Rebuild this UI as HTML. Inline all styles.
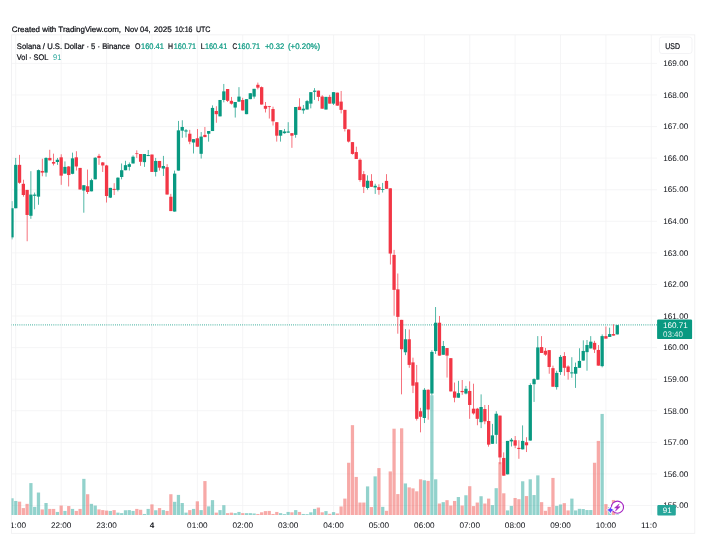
<!DOCTYPE html>
<html><head><meta charset="utf-8"><title>SOLUSD</title>
<style>html,body{margin:0;padding:0;background:#fff;}body{width:711px;height:540px;overflow:hidden;}svg{display:block;}text{font-family:"Liberation Sans",sans-serif;text-rendering:geometricPrecision;stroke-width:0.22px;}.k{stroke:#0c0e14;}.ax{stroke:none;}svg{will-change:transform;}</style>
</head><body>
<svg width="711" height="540" viewBox="0 0 711 540">
<rect x="0" y="0" width="711" height="540" fill="#ffffff"/>
<defs><clipPath id="pane"><rect x="11.5" y="34.85" width="645.5" height="480.15"/></clipPath><clipPath id="taxis"><rect x="11.5" y="515.0" width="645.5" height="18.299999999999955"/></clipPath></defs>
<g stroke="#f3f3f4" stroke-width="0.8" shape-rendering="auto">
<line x1="15.77" y1="34.85" x2="15.77" y2="515.0"/>
<line x1="61.17" y1="34.85" x2="61.17" y2="515.0"/>
<line x1="106.56" y1="34.85" x2="106.56" y2="515.0"/>
<line x1="151.96" y1="34.85" x2="151.96" y2="515.0"/>
<line x1="197.35" y1="34.85" x2="197.35" y2="515.0"/>
<line x1="242.75" y1="34.85" x2="242.75" y2="515.0"/>
<line x1="288.15" y1="34.85" x2="288.15" y2="515.0"/>
<line x1="333.54" y1="34.85" x2="333.54" y2="515.0"/>
<line x1="378.94" y1="34.85" x2="378.94" y2="515.0"/>
<line x1="424.33" y1="34.85" x2="424.33" y2="515.0"/>
<line x1="469.73" y1="34.85" x2="469.73" y2="515.0"/>
<line x1="515.13" y1="34.85" x2="515.13" y2="515.0"/>
<line x1="560.52" y1="34.85" x2="560.52" y2="515.0"/>
<line x1="605.92" y1="34.85" x2="605.92" y2="515.0"/>
<line x1="651.31" y1="34.85" x2="651.31" y2="515.0"/>
<line x1="11.5" y1="63.40" x2="657.0" y2="63.40"/>
<line x1="11.5" y1="94.98" x2="657.0" y2="94.98"/>
<line x1="11.5" y1="126.56" x2="657.0" y2="126.56"/>
<line x1="11.5" y1="158.14" x2="657.0" y2="158.14"/>
<line x1="11.5" y1="189.72" x2="657.0" y2="189.72"/>
<line x1="11.5" y1="221.30" x2="657.0" y2="221.30"/>
<line x1="11.5" y1="252.88" x2="657.0" y2="252.88"/>
<line x1="11.5" y1="284.46" x2="657.0" y2="284.46"/>
<line x1="11.5" y1="316.04" x2="657.0" y2="316.04"/>
<line x1="11.5" y1="347.62" x2="657.0" y2="347.62"/>
<line x1="11.5" y1="379.20" x2="657.0" y2="379.20"/>
<line x1="11.5" y1="410.78" x2="657.0" y2="410.78"/>
<line x1="11.5" y1="442.36" x2="657.0" y2="442.36"/>
<line x1="11.5" y1="473.94" x2="657.0" y2="473.94"/>
<line x1="11.5" y1="505.52" x2="657.0" y2="505.52"/>
</g>
<rect x="11.5" y="34.85" width="683.3" height="498.44999999999993" fill="none" stroke="#eeeef0" stroke-width="0.8"/>
<g clip-path="url(#pane)">
<rect x="10.36" y="498.28" width="3.25" height="16.72" fill="#26a69a" fill-opacity="0.5"/>
<rect x="14.14" y="500.98" width="3.25" height="14.02" fill="#26a69a" fill-opacity="0.5"/>
<rect x="17.93" y="501.66" width="3.25" height="13.34" fill="#ef5350" fill-opacity="0.5"/>
<rect x="21.71" y="508.07" width="3.25" height="6.93" fill="#ef5350" fill-opacity="0.5"/>
<rect x="25.49" y="503.85" width="3.25" height="11.15" fill="#ef5350" fill-opacity="0.5"/>
<rect x="29.28" y="483.09" width="3.25" height="31.91" fill="#26a69a" fill-opacity="0.5"/>
<rect x="33.06" y="506.89" width="3.25" height="8.11" fill="#26a69a" fill-opacity="0.5"/>
<rect x="36.84" y="492.54" width="3.25" height="22.46" fill="#26a69a" fill-opacity="0.5"/>
<rect x="40.63" y="509.42" width="3.25" height="5.58" fill="#ef5350" fill-opacity="0.5"/>
<rect x="44.41" y="503.01" width="3.25" height="11.99" fill="#26a69a" fill-opacity="0.5"/>
<rect x="48.19" y="508.92" width="3.25" height="6.08" fill="#ef5350" fill-opacity="0.5"/>
<rect x="51.97" y="508.92" width="3.25" height="6.08" fill="#ef5350" fill-opacity="0.5"/>
<rect x="55.76" y="511.95" width="3.25" height="3.05" fill="#26a69a" fill-opacity="0.5"/>
<rect x="59.54" y="505.54" width="3.25" height="9.46" fill="#ef5350" fill-opacity="0.5"/>
<rect x="63.32" y="510.94" width="3.25" height="4.06" fill="#26a69a" fill-opacity="0.5"/>
<rect x="67.11" y="506.05" width="3.25" height="8.95" fill="#ef5350" fill-opacity="0.5"/>
<rect x="70.89" y="508.92" width="3.25" height="6.08" fill="#26a69a" fill-opacity="0.5"/>
<rect x="74.67" y="510.94" width="3.25" height="4.06" fill="#ef5350" fill-opacity="0.5"/>
<rect x="78.46" y="508.92" width="3.25" height="6.08" fill="#ef5350" fill-opacity="0.5"/>
<rect x="82.24" y="478.87" width="3.25" height="36.13" fill="#26a69a" fill-opacity="0.5"/>
<rect x="86.02" y="494.23" width="3.25" height="20.77" fill="#ef5350" fill-opacity="0.5"/>
<rect x="89.80" y="503.85" width="3.25" height="11.15" fill="#26a69a" fill-opacity="0.5"/>
<rect x="93.59" y="505.54" width="3.25" height="9.46" fill="#26a69a" fill-opacity="0.5"/>
<rect x="97.37" y="509.42" width="3.25" height="5.58" fill="#ef5350" fill-opacity="0.5"/>
<rect x="101.15" y="510.10" width="3.25" height="4.90" fill="#ef5350" fill-opacity="0.5"/>
<rect x="104.94" y="510.60" width="3.25" height="4.40" fill="#ef5350" fill-opacity="0.5"/>
<rect x="108.72" y="510.94" width="3.25" height="4.06" fill="#26a69a" fill-opacity="0.5"/>
<rect x="112.50" y="510.10" width="3.25" height="4.90" fill="#ef5350" fill-opacity="0.5"/>
<rect x="116.29" y="512.63" width="3.25" height="2.37" fill="#26a69a" fill-opacity="0.5"/>
<rect x="120.07" y="513.14" width="3.25" height="1.86" fill="#26a69a" fill-opacity="0.5"/>
<rect x="123.85" y="510.27" width="3.25" height="4.73" fill="#26a69a" fill-opacity="0.5"/>
<rect x="127.63" y="510.10" width="3.25" height="4.90" fill="#26a69a" fill-opacity="0.5"/>
<rect x="131.42" y="510.94" width="3.25" height="4.06" fill="#26a69a" fill-opacity="0.5"/>
<rect x="135.20" y="508.92" width="3.25" height="6.08" fill="#ef5350" fill-opacity="0.5"/>
<rect x="138.98" y="509.76" width="3.25" height="5.24" fill="#ef5350" fill-opacity="0.5"/>
<rect x="142.77" y="513.98" width="3.25" height="1.02" fill="#26a69a" fill-opacity="0.5"/>
<rect x="146.55" y="508.92" width="3.25" height="6.08" fill="#26a69a" fill-opacity="0.5"/>
<rect x="150.33" y="504.36" width="3.25" height="10.64" fill="#ef5350" fill-opacity="0.5"/>
<rect x="154.12" y="510.27" width="3.25" height="4.73" fill="#26a69a" fill-opacity="0.5"/>
<rect x="157.90" y="508.07" width="3.25" height="6.93" fill="#ef5350" fill-opacity="0.5"/>
<rect x="161.68" y="510.10" width="3.25" height="4.90" fill="#26a69a" fill-opacity="0.5"/>
<rect x="165.47" y="510.94" width="3.25" height="4.06" fill="#ef5350" fill-opacity="0.5"/>
<rect x="169.25" y="494.23" width="3.25" height="20.77" fill="#ef5350" fill-opacity="0.5"/>
<rect x="173.03" y="501.83" width="3.25" height="13.17" fill="#26a69a" fill-opacity="0.5"/>
<rect x="176.81" y="494.91" width="3.25" height="20.09" fill="#26a69a" fill-opacity="0.5"/>
<rect x="180.60" y="503.01" width="3.25" height="11.99" fill="#26a69a" fill-opacity="0.5"/>
<rect x="184.38" y="512.63" width="3.25" height="2.37" fill="#26a69a" fill-opacity="0.5"/>
<rect x="188.16" y="510.10" width="3.25" height="4.90" fill="#ef5350" fill-opacity="0.5"/>
<rect x="191.95" y="508.92" width="3.25" height="6.08" fill="#26a69a" fill-opacity="0.5"/>
<rect x="195.73" y="501.32" width="3.25" height="13.68" fill="#ef5350" fill-opacity="0.5"/>
<rect x="199.51" y="510.10" width="3.25" height="4.90" fill="#26a69a" fill-opacity="0.5"/>
<rect x="203.30" y="481.07" width="3.25" height="33.93" fill="#ef5350" fill-opacity="0.5"/>
<rect x="207.08" y="506.38" width="3.25" height="8.62" fill="#26a69a" fill-opacity="0.5"/>
<rect x="210.86" y="500.14" width="3.25" height="14.86" fill="#26a69a" fill-opacity="0.5"/>
<rect x="214.64" y="512.63" width="3.25" height="2.37" fill="#ef5350" fill-opacity="0.5"/>
<rect x="218.43" y="510.10" width="3.25" height="4.90" fill="#26a69a" fill-opacity="0.5"/>
<rect x="222.21" y="505.20" width="3.25" height="9.80" fill="#26a69a" fill-opacity="0.5"/>
<rect x="225.99" y="513.14" width="3.25" height="1.86" fill="#ef5350" fill-opacity="0.5"/>
<rect x="229.78" y="512.63" width="3.25" height="2.37" fill="#ef5350" fill-opacity="0.5"/>
<rect x="233.56" y="513.14" width="3.25" height="1.86" fill="#26a69a" fill-opacity="0.5"/>
<rect x="237.34" y="511.95" width="3.25" height="3.05" fill="#26a69a" fill-opacity="0.5"/>
<rect x="241.12" y="513.14" width="3.25" height="1.86" fill="#ef5350" fill-opacity="0.5"/>
<rect x="244.91" y="513.14" width="3.25" height="1.86" fill="#26a69a" fill-opacity="0.5"/>
<rect x="248.69" y="513.14" width="3.25" height="1.86" fill="#26a69a" fill-opacity="0.5"/>
<rect x="252.47" y="513.47" width="3.25" height="1.53" fill="#26a69a" fill-opacity="0.5"/>
<rect x="256.26" y="513.98" width="3.25" height="1.02" fill="#ef5350" fill-opacity="0.5"/>
<rect x="260.04" y="512.29" width="3.25" height="2.71" fill="#ef5350" fill-opacity="0.5"/>
<rect x="263.82" y="511.11" width="3.25" height="3.89" fill="#ef5350" fill-opacity="0.5"/>
<rect x="267.61" y="510.94" width="3.25" height="4.06" fill="#ef5350" fill-opacity="0.5"/>
<rect x="271.39" y="513.98" width="3.25" height="1.02" fill="#ef5350" fill-opacity="0.5"/>
<rect x="275.17" y="511.95" width="3.25" height="3.05" fill="#ef5350" fill-opacity="0.5"/>
<rect x="278.95" y="513.14" width="3.25" height="1.86" fill="#26a69a" fill-opacity="0.5"/>
<rect x="282.74" y="514.15" width="3.25" height="0.85" fill="#26a69a" fill-opacity="0.5"/>
<rect x="286.52" y="511.95" width="3.25" height="3.05" fill="#26a69a" fill-opacity="0.5"/>
<rect x="290.30" y="512.29" width="3.25" height="2.71" fill="#ef5350" fill-opacity="0.5"/>
<rect x="294.09" y="510.10" width="3.25" height="4.90" fill="#26a69a" fill-opacity="0.5"/>
<rect x="297.87" y="511.95" width="3.25" height="3.05" fill="#ef5350" fill-opacity="0.5"/>
<rect x="301.65" y="513.98" width="3.25" height="1.02" fill="#26a69a" fill-opacity="0.5"/>
<rect x="305.44" y="514.15" width="3.25" height="0.85" fill="#26a69a" fill-opacity="0.5"/>
<rect x="309.22" y="512.29" width="3.25" height="2.71" fill="#26a69a" fill-opacity="0.5"/>
<rect x="313.00" y="508.92" width="3.25" height="6.08" fill="#26a69a" fill-opacity="0.5"/>
<rect x="316.78" y="507.57" width="3.25" height="7.43" fill="#ef5350" fill-opacity="0.5"/>
<rect x="320.57" y="512.29" width="3.25" height="2.71" fill="#ef5350" fill-opacity="0.5"/>
<rect x="324.35" y="511.11" width="3.25" height="3.89" fill="#26a69a" fill-opacity="0.5"/>
<rect x="328.13" y="513.81" width="3.25" height="1.19" fill="#ef5350" fill-opacity="0.5"/>
<rect x="331.92" y="512.12" width="3.25" height="2.88" fill="#26a69a" fill-opacity="0.5"/>
<rect x="335.70" y="513.47" width="3.25" height="1.53" fill="#ef5350" fill-opacity="0.5"/>
<rect x="339.48" y="506.48" width="3.25" height="8.52" fill="#ef5350" fill-opacity="0.5"/>
<rect x="343.27" y="498.61" width="3.25" height="16.39" fill="#ef5350" fill-opacity="0.5"/>
<rect x="347.05" y="462.77" width="3.25" height="52.23" fill="#ef5350" fill-opacity="0.5"/>
<rect x="350.83" y="425.16" width="3.25" height="89.84" fill="#ef5350" fill-opacity="0.5"/>
<rect x="354.61" y="476.95" width="3.25" height="38.05" fill="#ef5350" fill-opacity="0.5"/>
<rect x="358.40" y="502.55" width="3.25" height="12.45" fill="#ef5350" fill-opacity="0.5"/>
<rect x="362.18" y="502.55" width="3.25" height="12.45" fill="#ef5350" fill-opacity="0.5"/>
<rect x="365.96" y="486.40" width="3.25" height="28.60" fill="#26a69a" fill-opacity="0.5"/>
<rect x="369.75" y="507.07" width="3.25" height="7.93" fill="#ef5350" fill-opacity="0.5"/>
<rect x="373.53" y="476.36" width="3.25" height="38.64" fill="#26a69a" fill-opacity="0.5"/>
<rect x="377.31" y="468.09" width="3.25" height="46.91" fill="#ef5350" fill-opacity="0.5"/>
<rect x="381.10" y="506.88" width="3.25" height="8.12" fill="#26a69a" fill-opacity="0.5"/>
<rect x="384.88" y="510.82" width="3.25" height="4.18" fill="#ef5350" fill-opacity="0.5"/>
<rect x="388.66" y="471.43" width="3.25" height="43.57" fill="#ef5350" fill-opacity="0.5"/>
<rect x="392.44" y="428.71" width="3.25" height="86.29" fill="#ef5350" fill-opacity="0.5"/>
<rect x="396.23" y="494.08" width="3.25" height="20.92" fill="#ef5350" fill-opacity="0.5"/>
<rect x="400.01" y="428.31" width="3.25" height="86.69" fill="#ef5350" fill-opacity="0.5"/>
<rect x="403.79" y="483.45" width="3.25" height="31.55" fill="#26a69a" fill-opacity="0.5"/>
<rect x="407.58" y="487.38" width="3.25" height="27.62" fill="#ef5350" fill-opacity="0.5"/>
<rect x="411.36" y="488.37" width="3.25" height="26.63" fill="#ef5350" fill-opacity="0.5"/>
<rect x="415.14" y="491.32" width="3.25" height="23.68" fill="#ef5350" fill-opacity="0.5"/>
<rect x="418.93" y="479.31" width="3.25" height="35.69" fill="#ef5350" fill-opacity="0.5"/>
<rect x="422.71" y="480.29" width="3.25" height="34.71" fill="#26a69a" fill-opacity="0.5"/>
<rect x="426.49" y="480.89" width="3.25" height="34.11" fill="#ef5350" fill-opacity="0.5"/>
<rect x="430.27" y="395.23" width="3.25" height="119.77" fill="#26a69a" fill-opacity="0.5"/>
<rect x="434.06" y="479.31" width="3.25" height="35.69" fill="#26a69a" fill-opacity="0.5"/>
<rect x="437.84" y="503.53" width="3.25" height="11.47" fill="#ef5350" fill-opacity="0.5"/>
<rect x="441.62" y="502.15" width="3.25" height="12.85" fill="#26a69a" fill-opacity="0.5"/>
<rect x="445.41" y="500.18" width="3.25" height="14.82" fill="#ef5350" fill-opacity="0.5"/>
<rect x="449.19" y="505.50" width="3.25" height="9.50" fill="#ef5350" fill-opacity="0.5"/>
<rect x="452.97" y="500.97" width="3.25" height="14.03" fill="#ef5350" fill-opacity="0.5"/>
<rect x="456.76" y="497.03" width="3.25" height="17.97" fill="#26a69a" fill-opacity="0.5"/>
<rect x="460.54" y="505.50" width="3.25" height="9.50" fill="#ef5350" fill-opacity="0.5"/>
<rect x="464.32" y="495.26" width="3.25" height="19.74" fill="#26a69a" fill-opacity="0.5"/>
<rect x="468.10" y="486.20" width="3.25" height="28.80" fill="#ef5350" fill-opacity="0.5"/>
<rect x="471.89" y="506.09" width="3.25" height="8.91" fill="#ef5350" fill-opacity="0.5"/>
<rect x="475.67" y="502.55" width="3.25" height="12.45" fill="#ef5350" fill-opacity="0.5"/>
<rect x="479.45" y="496.24" width="3.25" height="18.76" fill="#26a69a" fill-opacity="0.5"/>
<rect x="483.24" y="503.53" width="3.25" height="11.47" fill="#ef5350" fill-opacity="0.5"/>
<rect x="487.02" y="498.61" width="3.25" height="16.39" fill="#ef5350" fill-opacity="0.5"/>
<rect x="490.80" y="505.10" width="3.25" height="9.90" fill="#26a69a" fill-opacity="0.5"/>
<rect x="494.59" y="488.17" width="3.25" height="26.83" fill="#26a69a" fill-opacity="0.5"/>
<rect x="498.37" y="462.18" width="3.25" height="52.82" fill="#ef5350" fill-opacity="0.5"/>
<rect x="502.15" y="493.29" width="3.25" height="21.71" fill="#ef5350" fill-opacity="0.5"/>
<rect x="505.93" y="510.42" width="3.25" height="4.58" fill="#26a69a" fill-opacity="0.5"/>
<rect x="509.72" y="505.89" width="3.25" height="9.11" fill="#26a69a" fill-opacity="0.5"/>
<rect x="513.50" y="498.02" width="3.25" height="16.98" fill="#ef5350" fill-opacity="0.5"/>
<rect x="517.28" y="499.20" width="3.25" height="15.80" fill="#ef5350" fill-opacity="0.5"/>
<rect x="521.07" y="481.28" width="3.25" height="33.72" fill="#26a69a" fill-opacity="0.5"/>
<rect x="524.85" y="496.05" width="3.25" height="18.95" fill="#ef5350" fill-opacity="0.5"/>
<rect x="528.63" y="479.31" width="3.25" height="35.69" fill="#26a69a" fill-opacity="0.5"/>
<rect x="532.42" y="495.06" width="3.25" height="19.94" fill="#26a69a" fill-opacity="0.5"/>
<rect x="536.20" y="475.37" width="3.25" height="39.63" fill="#26a69a" fill-opacity="0.5"/>
<rect x="539.98" y="502.15" width="3.25" height="12.85" fill="#ef5350" fill-opacity="0.5"/>
<rect x="543.76" y="510.82" width="3.25" height="4.18" fill="#ef5350" fill-opacity="0.5"/>
<rect x="547.55" y="506.88" width="3.25" height="8.12" fill="#ef5350" fill-opacity="0.5"/>
<rect x="551.33" y="477.93" width="3.25" height="37.07" fill="#ef5350" fill-opacity="0.5"/>
<rect x="555.11" y="505.89" width="3.25" height="9.11" fill="#26a69a" fill-opacity="0.5"/>
<rect x="558.90" y="504.51" width="3.25" height="10.49" fill="#26a69a" fill-opacity="0.5"/>
<rect x="562.68" y="503.14" width="3.25" height="11.86" fill="#ef5350" fill-opacity="0.5"/>
<rect x="566.46" y="510.42" width="3.25" height="4.58" fill="#ef5350" fill-opacity="0.5"/>
<rect x="570.25" y="498.61" width="3.25" height="16.39" fill="#26a69a" fill-opacity="0.5"/>
<rect x="574.03" y="510.42" width="3.25" height="4.58" fill="#26a69a" fill-opacity="0.5"/>
<rect x="577.81" y="508.85" width="3.25" height="6.15" fill="#26a69a" fill-opacity="0.5"/>
<rect x="581.59" y="509.04" width="3.25" height="5.96" fill="#26a69a" fill-opacity="0.5"/>
<rect x="585.38" y="510.03" width="3.25" height="4.97" fill="#26a69a" fill-opacity="0.5"/>
<rect x="589.16" y="510.03" width="3.25" height="4.97" fill="#26a69a" fill-opacity="0.5"/>
<rect x="592.94" y="462.77" width="3.25" height="52.23" fill="#ef5350" fill-opacity="0.5"/>
<rect x="596.73" y="440.91" width="3.25" height="74.09" fill="#ef5350" fill-opacity="0.5"/>
<rect x="600.51" y="413.94" width="3.25" height="101.06" fill="#26a69a" fill-opacity="0.5"/>
<rect x="604.29" y="504.12" width="3.25" height="10.88" fill="#ef5350" fill-opacity="0.5"/>
<rect x="608.08" y="507.07" width="3.25" height="7.93" fill="#26a69a" fill-opacity="0.5"/>
<rect x="611.86" y="499.99" width="3.25" height="15.01" fill="#ef5350" fill-opacity="0.5"/>
<rect x="615.64" y="514.36" width="3.25" height="0.64" fill="#26a69a" fill-opacity="0.5"/>
</g>
<line x1="11.03" y1="324.95" x2="657.0" y2="324.95" stroke="#089981" stroke-opacity="0.85" stroke-width="1.3" stroke-dasharray="0.72 1.402" clip-path="url(#pane)"/>
<g clip-path="url(#pane)">
<rect x="11.64" y="201.11" width="0.7" height="38.30" fill="#089981"/>
<rect x="10.34" y="208.24" width="3.3" height="29.13" fill="#089981"/>
<rect x="15.42" y="157.93" width="0.7" height="50.32" fill="#089981"/>
<rect x="14.12" y="164.85" width="3.3" height="43.39" fill="#089981"/>
<rect x="19.20" y="154.87" width="0.7" height="28.93" fill="#f23645"/>
<rect x="17.90" y="164.85" width="3.3" height="17.93" fill="#f23645"/>
<rect x="22.99" y="179.72" width="0.7" height="16.91" fill="#f23645"/>
<rect x="21.69" y="183.80" width="3.3" height="11.20" fill="#f23645"/>
<rect x="26.77" y="189.91" width="0.7" height="51.33" fill="#f23645"/>
<rect x="25.47" y="189.91" width="3.3" height="25.06" fill="#f23645"/>
<rect x="30.55" y="171.17" width="0.7" height="47.67" fill="#089981"/>
<rect x="29.25" y="194.59" width="3.3" height="21.19" fill="#089981"/>
<rect x="34.34" y="192.56" width="0.7" height="16.70" fill="#089981"/>
<rect x="33.04" y="194.59" width="3.3" height="1.22" fill="#089981"/>
<rect x="38.12" y="169.54" width="0.7" height="35.24" fill="#089981"/>
<rect x="36.82" y="170.15" width="3.3" height="26.48" fill="#089981"/>
<rect x="41.90" y="158.74" width="0.7" height="17.52" fill="#f23645"/>
<rect x="40.60" y="170.96" width="3.3" height="1.63" fill="#f23645"/>
<rect x="45.68" y="157.32" width="0.7" height="19.35" fill="#089981"/>
<rect x="44.38" y="157.93" width="3.3" height="14.67" fill="#089981"/>
<rect x="49.47" y="149.78" width="0.7" height="10.59" fill="#f23645"/>
<rect x="48.17" y="157.93" width="3.3" height="2.44" fill="#f23645"/>
<rect x="53.25" y="153.65" width="0.7" height="11.82" fill="#f23645"/>
<rect x="51.95" y="162.00" width="3.3" height="1.63" fill="#f23645"/>
<rect x="57.03" y="157.93" width="0.7" height="6.93" fill="#089981"/>
<rect x="55.73" y="159.76" width="3.3" height="2.24" fill="#089981"/>
<rect x="60.82" y="154.26" width="0.7" height="30.56" fill="#f23645"/>
<rect x="59.52" y="157.32" width="3.3" height="18.33" fill="#f23645"/>
<rect x="64.60" y="161.39" width="0.7" height="12.22" fill="#089981"/>
<rect x="63.30" y="166.89" width="3.3" height="6.72" fill="#089981"/>
<rect x="68.38" y="166.07" width="0.7" height="20.37" fill="#f23645"/>
<rect x="67.08" y="166.48" width="3.3" height="8.56" fill="#f23645"/>
<rect x="72.17" y="152.63" width="0.7" height="21.59" fill="#089981"/>
<rect x="70.86" y="158.33" width="3.3" height="15.48" fill="#089981"/>
<rect x="75.95" y="151.20" width="0.7" height="19.35" fill="#f23645"/>
<rect x="74.65" y="157.32" width="3.3" height="9.17" fill="#f23645"/>
<rect x="79.73" y="167.91" width="0.7" height="21.59" fill="#f23645"/>
<rect x="78.43" y="167.91" width="3.3" height="21.59" fill="#f23645"/>
<rect x="83.51" y="185.22" width="0.7" height="27.50" fill="#089981"/>
<rect x="82.21" y="185.22" width="3.3" height="5.30" fill="#089981"/>
<rect x="87.30" y="169.54" width="0.7" height="24.44" fill="#f23645"/>
<rect x="86.00" y="186.24" width="3.3" height="5.70" fill="#f23645"/>
<rect x="91.08" y="178.70" width="0.7" height="12.63" fill="#089981"/>
<rect x="89.78" y="180.13" width="3.3" height="11.20" fill="#089981"/>
<rect x="94.86" y="157.32" width="0.7" height="22.00" fill="#089981"/>
<rect x="93.56" y="157.72" width="3.3" height="21.59" fill="#089981"/>
<rect x="98.65" y="153.85" width="0.7" height="11.00" fill="#f23645"/>
<rect x="97.35" y="155.89" width="3.3" height="2.04" fill="#f23645"/>
<rect x="102.43" y="162.00" width="0.7" height="9.98" fill="#f23645"/>
<rect x="101.13" y="162.41" width="3.3" height="3.06" fill="#f23645"/>
<rect x="106.21" y="164.85" width="0.7" height="37.69" fill="#f23645"/>
<rect x="104.91" y="165.46" width="3.3" height="30.56" fill="#f23645"/>
<rect x="110.00" y="187.87" width="0.7" height="10.19" fill="#089981"/>
<rect x="108.69" y="187.87" width="3.3" height="9.78" fill="#089981"/>
<rect x="113.78" y="183.19" width="0.7" height="11.82" fill="#f23645"/>
<rect x="112.48" y="188.89" width="3.3" height="1.02" fill="#f23645"/>
<rect x="117.56" y="177.28" width="0.7" height="14.06" fill="#089981"/>
<rect x="116.26" y="177.69" width="3.3" height="12.22" fill="#089981"/>
<rect x="121.34" y="163.48" width="0.7" height="15.86" fill="#089981"/>
<rect x="120.04" y="170.23" width="3.3" height="6.75" fill="#089981"/>
<rect x="125.13" y="160.78" width="0.7" height="9.45" fill="#089981"/>
<rect x="123.83" y="165.17" width="3.3" height="5.06" fill="#089981"/>
<rect x="128.91" y="162.47" width="0.7" height="8.10" fill="#089981"/>
<rect x="127.61" y="164.16" width="3.3" height="2.70" fill="#089981"/>
<rect x="132.69" y="155.38" width="0.7" height="8.10" fill="#089981"/>
<rect x="131.39" y="156.73" width="3.3" height="6.75" fill="#089981"/>
<rect x="136.48" y="150.32" width="0.7" height="7.59" fill="#f23645"/>
<rect x="135.18" y="153.35" width="3.3" height="0.70" fill="#f23645"/>
<rect x="140.26" y="154.03" width="0.7" height="11.81" fill="#f23645"/>
<rect x="138.96" y="154.03" width="3.3" height="7.76" fill="#f23645"/>
<rect x="144.04" y="154.03" width="0.7" height="12.83" fill="#089981"/>
<rect x="142.74" y="154.03" width="3.3" height="8.10" fill="#089981"/>
<rect x="147.83" y="149.98" width="0.7" height="6.08" fill="#089981"/>
<rect x="146.53" y="155.04" width="3.3" height="1.01" fill="#089981"/>
<rect x="151.61" y="154.54" width="0.7" height="17.38" fill="#f23645"/>
<rect x="150.31" y="154.54" width="3.3" height="17.38" fill="#f23645"/>
<rect x="155.39" y="157.91" width="0.7" height="18.57" fill="#089981"/>
<rect x="154.09" y="160.95" width="3.3" height="10.97" fill="#089981"/>
<rect x="159.17" y="160.95" width="0.7" height="9.62" fill="#f23645"/>
<rect x="157.87" y="160.95" width="3.3" height="6.75" fill="#f23645"/>
<rect x="162.96" y="155.89" width="0.7" height="20.08" fill="#089981"/>
<rect x="161.66" y="166.01" width="3.3" height="2.53" fill="#089981"/>
<rect x="166.74" y="164.16" width="0.7" height="30.38" fill="#f23645"/>
<rect x="165.44" y="167.19" width="3.3" height="27.34" fill="#f23645"/>
<rect x="170.52" y="193.86" width="0.7" height="17.22" fill="#f23645"/>
<rect x="169.22" y="196.73" width="3.3" height="14.35" fill="#f23645"/>
<rect x="174.31" y="170.57" width="0.7" height="41.01" fill="#089981"/>
<rect x="173.01" y="173.61" width="3.3" height="37.97" fill="#089981"/>
<rect x="178.09" y="120.91" width="0.7" height="49.66" fill="#089981"/>
<rect x="176.79" y="130.36" width="3.3" height="40.21" fill="#089981"/>
<rect x="181.87" y="120.23" width="0.7" height="17.55" fill="#089981"/>
<rect x="180.57" y="126.98" width="3.3" height="3.71" fill="#089981"/>
<rect x="185.66" y="129.01" width="0.7" height="8.44" fill="#089981"/>
<rect x="184.35" y="130.36" width="3.3" height="1.18" fill="#089981"/>
<rect x="189.44" y="129.85" width="0.7" height="14.35" fill="#f23645"/>
<rect x="188.14" y="133.73" width="3.3" height="7.93" fill="#f23645"/>
<rect x="193.22" y="139.14" width="0.7" height="14.35" fill="#089981"/>
<rect x="191.92" y="139.14" width="3.3" height="3.38" fill="#089981"/>
<rect x="197.00" y="129.01" width="0.7" height="17.72" fill="#f23645"/>
<rect x="195.70" y="138.29" width="3.3" height="8.44" fill="#f23645"/>
<rect x="200.79" y="132.05" width="0.7" height="26.50" fill="#089981"/>
<rect x="199.49" y="136.60" width="3.3" height="17.22" fill="#089981"/>
<rect x="204.57" y="126.98" width="0.7" height="10.13" fill="#f23645"/>
<rect x="203.27" y="134.92" width="3.3" height="2.19" fill="#f23645"/>
<rect x="208.35" y="131.03" width="0.7" height="10.63" fill="#089981"/>
<rect x="207.05" y="131.03" width="3.3" height="2.70" fill="#089981"/>
<rect x="212.14" y="105.38" width="0.7" height="25.65" fill="#089981"/>
<rect x="210.84" y="107.91" width="3.3" height="23.12" fill="#089981"/>
<rect x="215.92" y="106.22" width="0.7" height="16.54" fill="#f23645"/>
<rect x="214.62" y="110.95" width="3.3" height="3.21" fill="#f23645"/>
<rect x="219.70" y="99.98" width="0.7" height="16.37" fill="#089981"/>
<rect x="218.40" y="99.98" width="3.3" height="16.37" fill="#089981"/>
<rect x="223.49" y="83.95" width="0.7" height="18.40" fill="#089981"/>
<rect x="222.19" y="91.37" width="3.3" height="8.61" fill="#089981"/>
<rect x="227.27" y="89.01" width="0.7" height="13.00" fill="#f23645"/>
<rect x="225.97" y="89.01" width="3.3" height="11.81" fill="#f23645"/>
<rect x="231.05" y="96.94" width="0.7" height="7.59" fill="#f23645"/>
<rect x="229.75" y="100.82" width="3.3" height="2.87" fill="#f23645"/>
<rect x="234.83" y="102.00" width="0.7" height="15.53" fill="#089981"/>
<rect x="233.53" y="102.00" width="3.3" height="5.57" fill="#089981"/>
<rect x="238.62" y="87.15" width="0.7" height="14.51" fill="#089981"/>
<rect x="237.32" y="96.60" width="3.3" height="5.06" fill="#089981"/>
<rect x="242.40" y="97.78" width="0.7" height="12.66" fill="#f23645"/>
<rect x="241.10" y="99.98" width="3.3" height="10.46" fill="#f23645"/>
<rect x="246.18" y="99.14" width="0.7" height="15.02" fill="#089981"/>
<rect x="244.88" y="99.14" width="3.3" height="15.02" fill="#089981"/>
<rect x="249.97" y="93.23" width="0.7" height="5.91" fill="#089981"/>
<rect x="248.67" y="93.23" width="3.3" height="5.91" fill="#089981"/>
<rect x="253.75" y="88.84" width="0.7" height="9.79" fill="#089981"/>
<rect x="252.45" y="88.84" width="3.3" height="7.76" fill="#089981"/>
<rect x="257.53" y="82.59" width="0.7" height="6.75" fill="#f23645"/>
<rect x="256.23" y="84.79" width="3.3" height="2.87" fill="#f23645"/>
<rect x="261.31" y="86.48" width="0.7" height="18.06" fill="#f23645"/>
<rect x="260.01" y="87.15" width="3.3" height="17.38" fill="#f23645"/>
<rect x="265.10" y="102.00" width="0.7" height="10.46" fill="#f23645"/>
<rect x="263.80" y="105.89" width="3.3" height="2.87" fill="#f23645"/>
<rect x="268.88" y="105.89" width="0.7" height="12.66" fill="#f23645"/>
<rect x="267.58" y="106.22" width="3.3" height="0.84" fill="#f23645"/>
<rect x="272.66" y="106.67" width="0.7" height="18.90" fill="#f23645"/>
<rect x="271.36" y="109.03" width="3.3" height="12.32" fill="#f23645"/>
<rect x="276.45" y="122.19" width="0.7" height="19.41" fill="#f23645"/>
<rect x="275.15" y="122.19" width="3.3" height="13.50" fill="#f23645"/>
<rect x="280.23" y="130.13" width="0.7" height="11.48" fill="#089981"/>
<rect x="278.93" y="130.13" width="3.3" height="5.57" fill="#089981"/>
<rect x="284.01" y="128.95" width="0.7" height="4.73" fill="#089981"/>
<rect x="282.71" y="131.48" width="3.3" height="1.69" fill="#089981"/>
<rect x="287.80" y="122.19" width="0.7" height="10.46" fill="#089981"/>
<rect x="286.50" y="131.48" width="3.3" height="1.18" fill="#089981"/>
<rect x="291.58" y="133.16" width="0.7" height="14.68" fill="#f23645"/>
<rect x="290.28" y="133.16" width="3.3" height="2.53" fill="#f23645"/>
<rect x="295.36" y="107.00" width="0.7" height="30.72" fill="#089981"/>
<rect x="294.06" y="107.00" width="3.3" height="27.85" fill="#089981"/>
<rect x="299.14" y="98.23" width="0.7" height="11.81" fill="#f23645"/>
<rect x="297.84" y="106.67" width="3.3" height="3.38" fill="#f23645"/>
<rect x="302.93" y="104.98" width="0.7" height="8.78" fill="#089981"/>
<rect x="301.63" y="108.69" width="3.3" height="1.69" fill="#089981"/>
<rect x="306.71" y="99.92" width="0.7" height="9.62" fill="#089981"/>
<rect x="305.41" y="101.10" width="3.3" height="8.44" fill="#089981"/>
<rect x="310.49" y="92.15" width="0.7" height="16.20" fill="#089981"/>
<rect x="309.19" y="92.15" width="3.3" height="11.48" fill="#089981"/>
<rect x="314.28" y="88.10" width="0.7" height="11.81" fill="#089981"/>
<rect x="312.98" y="90.63" width="3.3" height="1.18" fill="#089981"/>
<rect x="318.06" y="90.63" width="0.7" height="10.46" fill="#f23645"/>
<rect x="316.76" y="90.63" width="3.3" height="6.24" fill="#f23645"/>
<rect x="321.84" y="95.19" width="0.7" height="13.50" fill="#f23645"/>
<rect x="320.54" y="96.54" width="3.3" height="12.15" fill="#f23645"/>
<rect x="325.63" y="96.88" width="0.7" height="12.66" fill="#089981"/>
<rect x="324.33" y="96.88" width="3.3" height="12.66" fill="#089981"/>
<rect x="329.41" y="94.85" width="0.7" height="8.78" fill="#f23645"/>
<rect x="328.11" y="96.88" width="3.3" height="6.75" fill="#f23645"/>
<rect x="333.19" y="92.15" width="0.7" height="12.83" fill="#089981"/>
<rect x="331.89" y="92.15" width="3.3" height="11.48" fill="#089981"/>
<rect x="336.97" y="92.66" width="0.7" height="13.00" fill="#f23645"/>
<rect x="335.68" y="92.66" width="3.3" height="13.00" fill="#f23645"/>
<rect x="340.76" y="90.97" width="0.7" height="22.45" fill="#f23645"/>
<rect x="339.46" y="101.60" width="3.3" height="8.27" fill="#f23645"/>
<rect x="344.54" y="109.87" width="0.7" height="21.60" fill="#f23645"/>
<rect x="343.24" y="109.87" width="3.3" height="19.07" fill="#f23645"/>
<rect x="348.32" y="129.45" width="0.7" height="13.00" fill="#f23645"/>
<rect x="347.02" y="129.45" width="3.3" height="12.15" fill="#f23645"/>
<rect x="352.11" y="142.11" width="0.7" height="12.49" fill="#f23645"/>
<rect x="350.81" y="142.11" width="3.3" height="11.81" fill="#f23645"/>
<rect x="355.89" y="146.67" width="0.7" height="12.32" fill="#f23645"/>
<rect x="354.59" y="152.07" width="3.3" height="6.92" fill="#f23645"/>
<rect x="359.67" y="158.44" width="0.7" height="23.29" fill="#f23645"/>
<rect x="358.37" y="159.79" width="3.3" height="20.25" fill="#f23645"/>
<rect x="363.46" y="171.10" width="0.7" height="21.94" fill="#f23645"/>
<rect x="362.16" y="174.14" width="3.3" height="12.66" fill="#f23645"/>
<rect x="367.24" y="175.32" width="0.7" height="14.35" fill="#089981"/>
<rect x="365.94" y="180.72" width="3.3" height="7.26" fill="#089981"/>
<rect x="371.02" y="174.14" width="0.7" height="12.66" fill="#f23645"/>
<rect x="369.72" y="180.89" width="3.3" height="5.91" fill="#f23645"/>
<rect x="374.80" y="183.76" width="0.7" height="10.13" fill="#089981"/>
<rect x="373.50" y="185.78" width="3.3" height="1.69" fill="#089981"/>
<rect x="378.59" y="184.26" width="0.7" height="10.46" fill="#f23645"/>
<rect x="377.29" y="187.13" width="3.3" height="2.87" fill="#f23645"/>
<rect x="382.37" y="182.91" width="0.7" height="9.62" fill="#089981"/>
<rect x="381.07" y="189.16" width="3.3" height="0.84" fill="#089981"/>
<rect x="386.15" y="174.14" width="0.7" height="14.68" fill="#f23645"/>
<rect x="384.85" y="180.89" width="3.3" height="7.93" fill="#f23645"/>
<rect x="389.94" y="188.31" width="0.7" height="76.22" fill="#f23645"/>
<rect x="388.64" y="188.31" width="3.3" height="65.25" fill="#f23645"/>
<rect x="393.72" y="249.85" width="0.7" height="65.82" fill="#f23645"/>
<rect x="392.42" y="254.92" width="3.3" height="34.94" fill="#f23645"/>
<rect x="397.50" y="273.48" width="0.7" height="60.21" fill="#f23645"/>
<rect x="396.20" y="289.35" width="3.3" height="27.51" fill="#f23645"/>
<rect x="401.29" y="319.85" width="0.7" height="74.49" fill="#f23645"/>
<rect x="399.99" y="319.85" width="3.3" height="29.37" fill="#f23645"/>
<rect x="405.07" y="329.14" width="0.7" height="25.99" fill="#089981"/>
<rect x="403.77" y="339.26" width="3.3" height="13.00" fill="#089981"/>
<rect x="408.85" y="329.47" width="0.7" height="38.31" fill="#f23645"/>
<rect x="407.55" y="339.26" width="3.3" height="25.65" fill="#f23645"/>
<rect x="412.63" y="357.66" width="0.7" height="35.44" fill="#f23645"/>
<rect x="411.33" y="362.38" width="3.3" height="23.29" fill="#f23645"/>
<rect x="416.42" y="364.92" width="0.7" height="55.59" fill="#f23645"/>
<rect x="415.12" y="382.30" width="3.3" height="36.52" fill="#f23645"/>
<rect x="420.20" y="407.85" width="0.7" height="24.47" fill="#f23645"/>
<rect x="418.90" y="411.22" width="3.3" height="5.57" fill="#f23645"/>
<rect x="423.98" y="388.10" width="0.7" height="34.94" fill="#089981"/>
<rect x="422.68" y="389.79" width="3.3" height="28.19" fill="#089981"/>
<rect x="427.77" y="389.28" width="0.7" height="30.38" fill="#f23645"/>
<rect x="426.47" y="389.79" width="3.3" height="19.75" fill="#f23645"/>
<rect x="431.55" y="350.23" width="0.7" height="44.96" fill="#089981"/>
<rect x="430.25" y="351.92" width="3.3" height="41.58" fill="#089981"/>
<rect x="435.33" y="307.03" width="0.7" height="46.92" fill="#089981"/>
<rect x="434.03" y="322.72" width="3.3" height="28.35" fill="#089981"/>
<rect x="439.12" y="315.97" width="0.7" height="39.66" fill="#f23645"/>
<rect x="437.82" y="322.72" width="3.3" height="32.91" fill="#f23645"/>
<rect x="442.90" y="340.95" width="0.7" height="13.84" fill="#089981"/>
<rect x="441.60" y="346.01" width="3.3" height="8.78" fill="#089981"/>
<rect x="446.68" y="348.04" width="0.7" height="29.54" fill="#f23645"/>
<rect x="445.38" y="348.04" width="3.3" height="7.59" fill="#f23645"/>
<rect x="450.46" y="358.16" width="0.7" height="33.25" fill="#f23645"/>
<rect x="449.17" y="358.16" width="3.3" height="33.25" fill="#f23645"/>
<rect x="454.25" y="382.53" width="0.7" height="19.75" fill="#f23645"/>
<rect x="452.95" y="391.48" width="3.3" height="6.24" fill="#f23645"/>
<rect x="458.03" y="380.84" width="0.7" height="16.88" fill="#089981"/>
<rect x="456.73" y="393.16" width="3.3" height="4.56" fill="#089981"/>
<rect x="461.81" y="380.00" width="0.7" height="14.85" fill="#f23645"/>
<rect x="460.51" y="390.97" width="3.3" height="1.18" fill="#f23645"/>
<rect x="465.60" y="385.91" width="0.7" height="8.44" fill="#089981"/>
<rect x="464.30" y="388.78" width="3.3" height="4.73" fill="#089981"/>
<rect x="469.38" y="381.35" width="0.7" height="37.47" fill="#f23645"/>
<rect x="468.08" y="390.97" width="3.3" height="14.01" fill="#f23645"/>
<rect x="473.16" y="383.71" width="0.7" height="30.89" fill="#f23645"/>
<rect x="471.86" y="408.69" width="3.3" height="4.73" fill="#f23645"/>
<rect x="476.95" y="407.85" width="0.7" height="17.38" fill="#f23645"/>
<rect x="475.65" y="408.69" width="3.3" height="10.13" fill="#f23645"/>
<rect x="480.73" y="394.35" width="0.7" height="33.76" fill="#089981"/>
<rect x="479.43" y="407.00" width="3.3" height="15.19" fill="#089981"/>
<rect x="484.51" y="404.98" width="0.7" height="19.24" fill="#f23645"/>
<rect x="483.21" y="409.03" width="3.3" height="12.32" fill="#f23645"/>
<rect x="488.29" y="404.98" width="0.7" height="41.69" fill="#f23645"/>
<rect x="487.00" y="421.01" width="3.3" height="23.63" fill="#f23645"/>
<rect x="492.08" y="423.88" width="0.7" height="19.92" fill="#089981"/>
<rect x="490.78" y="435.36" width="3.3" height="8.44" fill="#089981"/>
<rect x="495.86" y="411.22" width="0.7" height="32.57" fill="#089981"/>
<rect x="494.56" y="413.76" width="3.3" height="21.10" fill="#089981"/>
<rect x="499.64" y="415.59" width="0.7" height="48.61" fill="#f23645"/>
<rect x="498.34" y="415.59" width="3.3" height="41.86" fill="#f23645"/>
<rect x="503.43" y="452.38" width="0.7" height="23.29" fill="#f23645"/>
<rect x="502.13" y="457.95" width="3.3" height="17.72" fill="#f23645"/>
<rect x="507.21" y="440.91" width="0.7" height="33.42" fill="#089981"/>
<rect x="505.91" y="440.91" width="3.3" height="33.42" fill="#089981"/>
<rect x="510.99" y="438.04" width="0.7" height="8.44" fill="#089981"/>
<rect x="509.69" y="439.73" width="3.3" height="1.69" fill="#089981"/>
<rect x="514.78" y="436.01" width="0.7" height="12.15" fill="#f23645"/>
<rect x="513.48" y="440.23" width="3.3" height="5.40" fill="#f23645"/>
<rect x="518.56" y="440.23" width="0.7" height="18.57" fill="#f23645"/>
<rect x="517.26" y="447.83" width="3.3" height="1.18" fill="#f23645"/>
<rect x="522.34" y="425.38" width="0.7" height="23.97" fill="#089981"/>
<rect x="521.04" y="440.91" width="3.3" height="8.44" fill="#089981"/>
<rect x="526.12" y="437.19" width="0.7" height="14.85" fill="#f23645"/>
<rect x="524.83" y="442.26" width="3.3" height="3.04" fill="#f23645"/>
<rect x="529.91" y="383.35" width="0.7" height="57.22" fill="#089981"/>
<rect x="528.61" y="385.04" width="3.3" height="55.53" fill="#089981"/>
<rect x="533.69" y="378.29" width="0.7" height="23.63" fill="#089981"/>
<rect x="532.39" y="379.14" width="3.3" height="5.06" fill="#089981"/>
<rect x="537.47" y="336.10" width="0.7" height="43.54" fill="#089981"/>
<rect x="536.17" y="347.41" width="3.3" height="32.24" fill="#089981"/>
<rect x="541.26" y="336.10" width="0.7" height="16.88" fill="#f23645"/>
<rect x="539.96" y="347.07" width="3.3" height="5.91" fill="#f23645"/>
<rect x="545.04" y="347.91" width="0.7" height="7.93" fill="#f23645"/>
<rect x="543.74" y="350.78" width="3.3" height="3.88" fill="#f23645"/>
<rect x="548.82" y="350.11" width="0.7" height="23.63" fill="#f23645"/>
<rect x="547.52" y="350.11" width="3.3" height="16.88" fill="#f23645"/>
<rect x="552.61" y="365.63" width="0.7" height="21.10" fill="#f23645"/>
<rect x="551.31" y="368.16" width="3.3" height="18.57" fill="#f23645"/>
<rect x="556.39" y="370.70" width="0.7" height="18.90" fill="#089981"/>
<rect x="555.09" y="372.89" width="3.3" height="14.18" fill="#089981"/>
<rect x="560.17" y="355.00" width="0.7" height="19.92" fill="#089981"/>
<rect x="558.87" y="356.86" width="3.3" height="15.19" fill="#089981"/>
<rect x="563.95" y="352.13" width="0.7" height="23.63" fill="#f23645"/>
<rect x="562.65" y="356.01" width="3.3" height="11.81" fill="#f23645"/>
<rect x="567.74" y="365.30" width="0.7" height="14.35" fill="#f23645"/>
<rect x="566.44" y="366.48" width="3.3" height="5.57" fill="#f23645"/>
<rect x="571.52" y="357.19" width="0.7" height="20.59" fill="#089981"/>
<rect x="570.22" y="372.38" width="3.3" height="1.01" fill="#089981"/>
<rect x="575.30" y="362.59" width="0.7" height="25.32" fill="#089981"/>
<rect x="574.00" y="366.98" width="3.3" height="6.75" fill="#089981"/>
<rect x="579.09" y="348.25" width="0.7" height="19.58" fill="#089981"/>
<rect x="577.79" y="360.91" width="3.3" height="6.92" fill="#089981"/>
<rect x="582.87" y="340.32" width="0.7" height="20.25" fill="#089981"/>
<rect x="581.57" y="350.95" width="3.3" height="9.62" fill="#089981"/>
<rect x="586.65" y="339.98" width="0.7" height="30.72" fill="#089981"/>
<rect x="585.35" y="345.04" width="3.3" height="7.09" fill="#089981"/>
<rect x="590.44" y="336.10" width="0.7" height="12.32" fill="#089981"/>
<rect x="589.14" y="341.67" width="3.3" height="6.75" fill="#089981"/>
<rect x="594.22" y="340.82" width="0.7" height="12.15" fill="#f23645"/>
<rect x="592.92" y="342.85" width="3.3" height="6.75" fill="#f23645"/>
<rect x="598.00" y="345.04" width="0.7" height="20.59" fill="#f23645"/>
<rect x="596.70" y="349.94" width="3.3" height="15.70" fill="#f23645"/>
<rect x="601.78" y="334.41" width="0.7" height="32.91" fill="#089981"/>
<rect x="600.49" y="336.10" width="3.3" height="30.04" fill="#089981"/>
<rect x="605.57" y="326.48" width="0.7" height="12.15" fill="#f23645"/>
<rect x="604.27" y="336.10" width="3.3" height="2.53" fill="#f23645"/>
<rect x="609.35" y="327.66" width="0.7" height="9.28" fill="#089981"/>
<rect x="608.05" y="334.07" width="3.3" height="2.87" fill="#089981"/>
<rect x="613.13" y="324.28" width="0.7" height="11.31" fill="#f23645"/>
<rect x="611.83" y="334.07" width="3.3" height="1.52" fill="#f23645"/>
<rect x="616.92" y="325.13" width="0.7" height="9.28" fill="#089981"/>
<rect x="615.62" y="325.13" width="3.3" height="9.28" fill="#089981"/>
</g>
<g class="ax" fill="#0c0e14" font-size="8.15">
<text x="663.2" y="66.15" textLength="25.1" lengthAdjust="spacingAndGlyphs">169.00</text>
<text x="663.2" y="97.73" textLength="25.1" lengthAdjust="spacingAndGlyphs">168.00</text>
<text x="663.2" y="129.31" textLength="25.1" lengthAdjust="spacingAndGlyphs">167.00</text>
<text x="663.2" y="160.89" textLength="25.1" lengthAdjust="spacingAndGlyphs">166.00</text>
<text x="663.2" y="192.47" textLength="25.1" lengthAdjust="spacingAndGlyphs">165.00</text>
<text x="663.2" y="224.05" textLength="25.1" lengthAdjust="spacingAndGlyphs">164.00</text>
<text x="663.2" y="255.63" textLength="25.1" lengthAdjust="spacingAndGlyphs">163.00</text>
<text x="663.2" y="287.21" textLength="25.1" lengthAdjust="spacingAndGlyphs">162.00</text>
<text x="663.2" y="318.79" textLength="25.1" lengthAdjust="spacingAndGlyphs">161.00</text>
<text x="663.2" y="350.37" textLength="25.1" lengthAdjust="spacingAndGlyphs">160.00</text>
<text x="663.2" y="381.95" textLength="25.1" lengthAdjust="spacingAndGlyphs">159.00</text>
<text x="663.2" y="413.53" textLength="25.1" lengthAdjust="spacingAndGlyphs">158.00</text>
<text x="663.2" y="445.11" textLength="25.1" lengthAdjust="spacingAndGlyphs">157.00</text>
<text x="663.2" y="476.69" textLength="25.1" lengthAdjust="spacingAndGlyphs">156.00</text>
<text x="663.2" y="508.27" textLength="25.1" lengthAdjust="spacingAndGlyphs">155.00</text>
</g>
<rect x="657.3" y="505.1" width="18.5" height="10.3" rx="1" fill="#26a69a"/>
<text x="662.8" y="512.8" font-size="8" fill="#ffffff" textLength="8.8" lengthAdjust="spacingAndGlyphs">91</text>
<rect x="657.1" y="319.6" width="35" height="19.5" rx="1.2" fill="#089981"/>
<text x="663" y="327.9" font-size="8.15" fill="#ffffff" textLength="24.9" lengthAdjust="spacingAndGlyphs">160.71</text>
<text x="663" y="336.7" font-size="8.15" fill="#ffffff" fill-opacity="0.85" textLength="20" lengthAdjust="spacingAndGlyphs">03:40</text>
<rect x="659.4" y="37" width="32.6" height="16.5" rx="2.5" fill="#ffffff" stroke="#eeeef0" stroke-width="0.7"/>
<text class="k" x="665.3" y="48.65" font-size="8.3" fill="#0c0e14" textLength="14.7" lengthAdjust="spacingAndGlyphs">USD</text>
<g class="ax" clip-path="url(#taxis)" fill="#0c0e14" font-size="8.15" text-anchor="middle">
<text x="15.77" y="527.6" textLength="20.5" lengthAdjust="spacingAndGlyphs">21:00</text>
<text x="61.17" y="527.6" textLength="20.5" lengthAdjust="spacingAndGlyphs">22:00</text>
<text x="106.56" y="527.6" textLength="20.5" lengthAdjust="spacingAndGlyphs">23:00</text>
<text x="151.96" y="527.6" font-weight="bold">4</text>
<text x="197.35" y="527.6" textLength="20.5" lengthAdjust="spacingAndGlyphs">01:00</text>
<text x="242.75" y="527.6" textLength="20.5" lengthAdjust="spacingAndGlyphs">02:00</text>
<text x="288.15" y="527.6" textLength="20.5" lengthAdjust="spacingAndGlyphs">03:00</text>
<text x="333.54" y="527.6" textLength="20.5" lengthAdjust="spacingAndGlyphs">04:00</text>
<text x="378.94" y="527.6" textLength="20.5" lengthAdjust="spacingAndGlyphs">05:00</text>
<text x="424.33" y="527.6" textLength="20.5" lengthAdjust="spacingAndGlyphs">06:00</text>
<text x="469.73" y="527.6" textLength="20.5" lengthAdjust="spacingAndGlyphs">07:00</text>
<text x="515.13" y="527.6" textLength="20.5" lengthAdjust="spacingAndGlyphs">08:00</text>
<text x="560.52" y="527.6" textLength="20.5" lengthAdjust="spacingAndGlyphs">09:00</text>
<text x="605.92" y="527.6" textLength="20.5" lengthAdjust="spacingAndGlyphs">10:00</text>
<text x="651.31" y="527.6" textLength="20.5" lengthAdjust="spacingAndGlyphs">11:00</text>
</g>
<text class="k" x="11.75" y="31.8" font-size="7.9" fill="#0c0e14" textLength="109.2" lengthAdjust="spacingAndGlyphs" xml:space="preserve">Created with TradingView.com,</text>
<text class="k" x="124.5" y="31.8" font-size="7.9" fill="#0c0e14" textLength="26.1" lengthAdjust="spacingAndGlyphs" xml:space="preserve">Nov 04,</text>
<text class="k" x="153.7" y="31.8" font-size="7.9" fill="#0c0e14" textLength="18.0" lengthAdjust="spacingAndGlyphs" xml:space="preserve">2025</text>
<text class="k" x="175.1" y="31.8" font-size="7.9" fill="#0c0e14" textLength="17.4" lengthAdjust="spacingAndGlyphs" xml:space="preserve">10:16</text>
<text class="k" x="195.9" y="31.8" font-size="7.9" fill="#0c0e14" textLength="14.6" lengthAdjust="spacingAndGlyphs" xml:space="preserve">UTC</text>
<g font-size="8.1">
<text x="16.8" class="k" y="48.55" fill="#0c0e14" textLength="113.2" lengthAdjust="spacingAndGlyphs" xml:space="preserve">Solana / U.S. Dollar · 5 · Binance</text>
<text x="135" y="48.55" fill="#0c0e14" stroke="#0c0e14" textLength="5.5" lengthAdjust="spacingAndGlyphs">O</text>
<text x="141" y="48.55" fill="#089981" stroke="#089981" textLength="22.8" lengthAdjust="spacingAndGlyphs">160.41</text>
<text x="168" y="48.55" fill="#0c0e14" stroke="#0c0e14" textLength="5" lengthAdjust="spacingAndGlyphs">H</text>
<text x="173.8" y="48.55" fill="#089981" stroke="#089981" textLength="22.4" lengthAdjust="spacingAndGlyphs">160.71</text>
<text x="200.8" y="48.55" fill="#0c0e14" stroke="#0c0e14" textLength="4" lengthAdjust="spacingAndGlyphs">L</text>
<text x="205" y="48.55" fill="#089981" stroke="#089981" textLength="22.2" lengthAdjust="spacingAndGlyphs">160.41</text>
<text x="232.4" y="48.55" fill="#0c0e14" stroke="#0c0e14" textLength="4.6" lengthAdjust="spacingAndGlyphs">C</text>
<text x="237.5" y="48.55" fill="#089981" stroke="#089981" textLength="22.6" lengthAdjust="spacingAndGlyphs">160.71</text>
<text x="264.9" y="48.55" fill="#089981" stroke="#089981" textLength="19.4" lengthAdjust="spacingAndGlyphs">+0.32</text>
<text x="288" y="48.55" fill="#089981" stroke="#089981" textLength="32.2" lengthAdjust="spacingAndGlyphs">(+0.20%)</text>
<text class="k" x="16.8" y="59.6" fill="#0c0e14" textLength="31.5" lengthAdjust="spacingAndGlyphs" xml:space="preserve">Vol · SOL</text>
<text x="53" y="59.6" fill="#26a69a" textLength="8.3" lengthAdjust="spacingAndGlyphs">91</text>
</g>
<g>
<circle cx="617.45" cy="507.15" r="6.05" fill="#ffffff" stroke="#a626c2" stroke-width="1.1"/>
<path d="M619.20,503.95 L614.55,507.90 L617.00,507.90 L615.45,511.05 L620.15,506.70 L617.65,506.70Z" fill="#a626c2" stroke="#a626c2" stroke-width="0.55" stroke-linejoin="round"/>
<path d="M610.4,506.4 Q610.9,509.4 613.9,509.9 Q610.9,510.4 610.4,513.4 Q609.9,510.4 606.9,509.9 Q609.9,509.4 610.4,506.4Z" fill="#5a43ff" stroke="#ffffff" stroke-width="1.3" paint-order="stroke" stroke-linejoin="round"/>
</g>
</svg></body></html>
